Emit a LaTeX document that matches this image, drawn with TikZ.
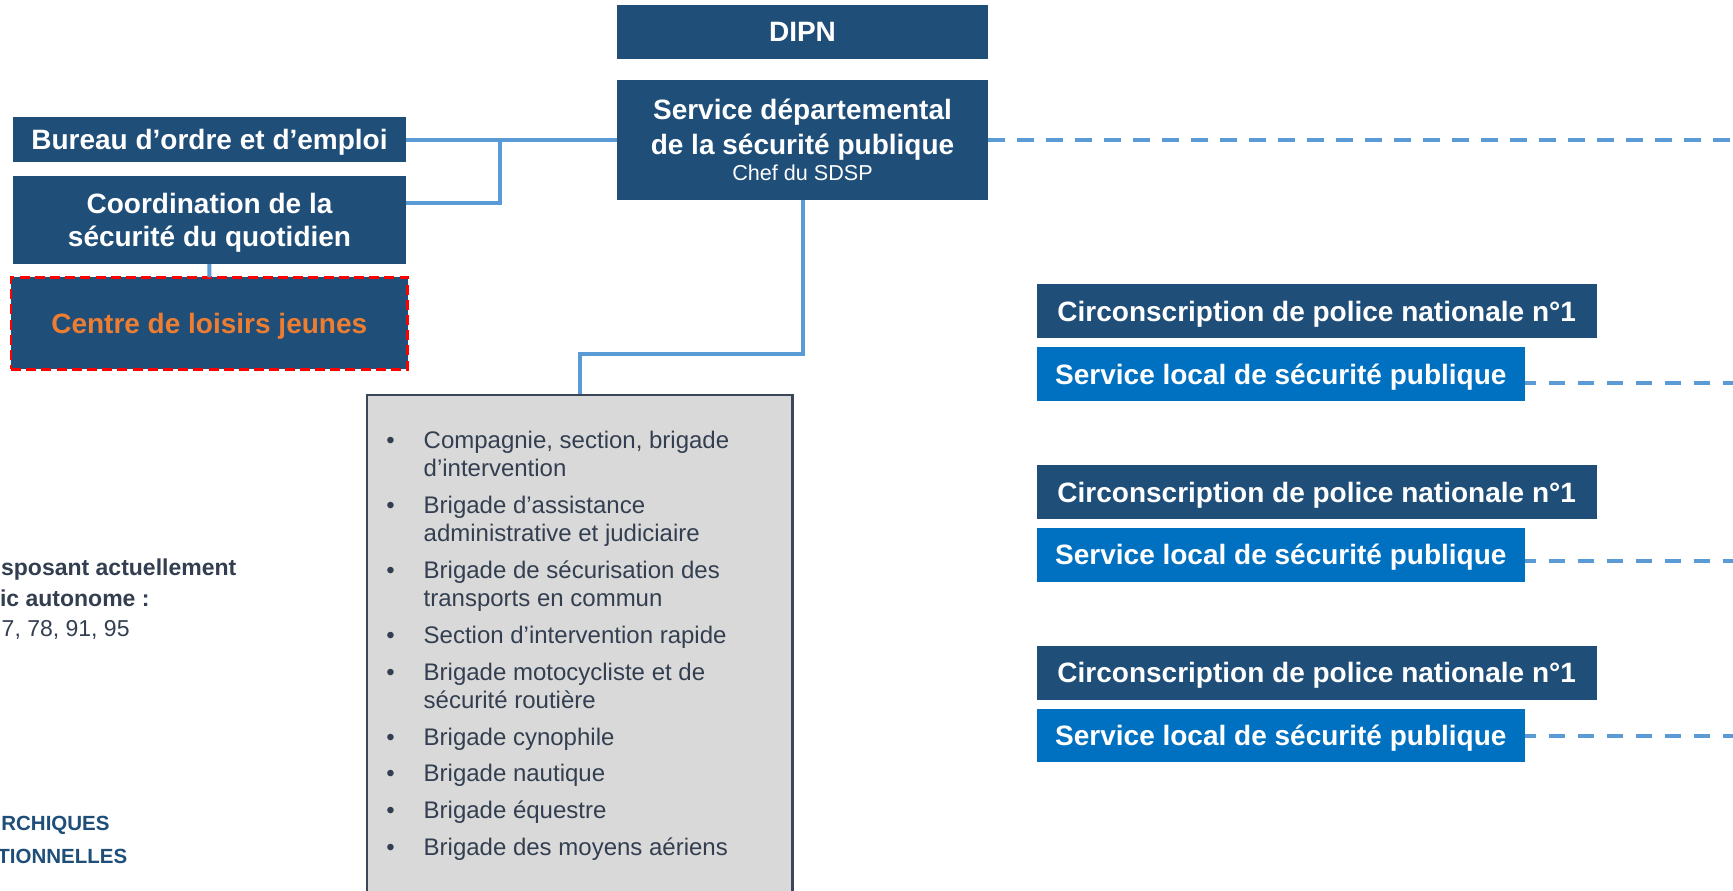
\documentclass[tikz,border=0pt]{standalone}
\usepackage{fontspec}
\setmainfont{Liberation Sans}
\definecolor{dblue}{HTML}{1F4E79}
\definecolor{mblue}{HTML}{0070C0}
\definecolor{lineblue}{HTML}{5B9BD5}
\definecolor{slate}{HTML}{333F50}
\definecolor{lgray}{HTML}{D9D9D9}
\definecolor{lborder}{HTML}{3B4757}
\definecolor{orng}{HTML}{ED7D31}
\tikzset{
  box/.style={fill=dblue, inner sep=0pt, outer sep=0pt, text=white,
    font=\bfseries\fontsize{14}{16.8}\selectfont, text height=10pt, text depth=0pt},
  sbox/.style={box, fill=mblue},
  btxt/.style={text=white, font=\bfseries\fontsize{14}{16.8}\selectfont, anchor=base, inner sep=0pt},
  stxt/.style={text=white, font=\fontsize{10.8}{13}\selectfont, anchor=base, inner sep=0pt},
  ltxt/.style={text=slate, font=\fontsize{12}{14}\selectfont, anchor=base west, inner sep=0pt},
  lbul/.style={text=slate, font=\fontsize{12}{14}\selectfont, anchor=base, inner sep=0pt},
  side/.style={text=slate, font=\bfseries\fontsize{11.5}{13.8}\selectfont, anchor=base east, inner sep=0pt},
  sider/.style={text=slate, font=\fontsize{11.5}{13.8}\selectfont, anchor=base east, inner sep=0pt},
  sideb/.style={text=dblue, font=\bfseries\fontsize{10.25}{12.3}\selectfont, anchor=base east, inner sep=0pt},
  conn/.style={draw=lineblue, line width=2pt},
  dconn/.style={draw=lineblue, line width=2pt, dash pattern=on 8.25pt off 6.25pt},
}
\begin{document}
\begin{tikzpicture}[x=0.5pt, y=-0.5pt]
\useasboundingbox (0,0) rectangle (1733,890);
\clip (0,0) rectangle (1733,890);
\fill[white] (0,0) rectangle (1733,890);

% top boxes
\node[box, minimum width=185.5pt, minimum height=27pt] (dipn) at (802.5,31.5) {DIPN};
\node[box, minimum width=185.5pt, minimum height=60.25pt] (sdsp) at (802.5,139.75) {};
\node[btxt] (sdspA) at (802.5,119.3) {Service départemental};
\node[btxt] (sdspB) at (802.5,154) {de la sécurité publique};
\node[stxt] (sdspC) at (802.5,180) {Chef du SDSP};

% left boxes
\node[box, minimum width=196.5pt, minimum height=22.8pt] (bureau) at (209.5,139.5) {Bureau d’ordre et d’emploi};
\node[box, minimum width=196.5pt, minimum height=44.15pt] (coord) at (209.5,219.85) {};
\node[btxt] (coordA) at (209.5,213.3) {Coordination de la};
\node[btxt] (coordB) at (209.5,246.7) {sécurité du quotidien};
\node[box, minimum width=198.25pt, minimum height=46pt, text=orng,
      draw=red, line width=1.4pt, dash pattern=on 5pt off 2.6pt] (centre) at (209.25,323.3) {Centre de loisirs jeunes};

% list box
\node[fill=lgray, draw=lborder, line width=1.35pt, inner sep=0pt,
      minimum width=212.75pt, minimum height=255pt] (list) at (579.75,650) {};
\node[lbul] (b1) at (390.5,448.3) {•};
\node[ltxt] (l1a) at (423.3,448.3) {Compagnie, section, brigade};
\node[ltxt] (l1b) at (423.3,476.6) {d’intervention};
\node[lbul] (b2) at (390.5,513.3) {•};
\node[ltxt] (l2a) at (423.3,513.3) {Brigade d’assistance};
\node[ltxt] (l2b) at (423.3,541.6) {administrative et judiciaire};
\node[lbul] (b3) at (390.5,578.3) {•};
\node[ltxt] (l3a) at (423.3,578.3) {Brigade de sécurisation des};
\node[ltxt] (l3b) at (423.3,606.6) {transports en commun};
\node[lbul] (b4) at (390.5,643.3) {•};
\node[ltxt] (l4) at (423.3,643.3) {Section d’intervention rapide};
\node[lbul] (b5) at (390.5,680) {•};
\node[ltxt] (l5a) at (423.3,680) {Brigade motocycliste et de};
\node[ltxt] (l5b) at (423.3,708.3) {sécurité routière};
\node[lbul] (b6) at (390.5,745) {•};
\node[ltxt] (l6) at (423.3,745) {Brigade cynophile};
\node[lbul] (b7) at (390.5,781.7) {•};
\node[ltxt] (l7) at (423.3,781.7) {Brigade nautique};
\node[lbul] (b8) at (390.5,818.4) {•};
\node[ltxt] (l8) at (423.3,818.4) {Brigade équestre};
\node[lbul] (b9) at (390.5,855.1) {•};
\node[ltxt] (l9) at (423.3,855.1) {Brigade des moyens aériens};

% right boxes
\node[box, minimum width=280pt, minimum height=27pt] (cpn1) at (1316.65,311.3) {Circonscription de police nationale n°1};
\node[sbox, minimum width=244.15pt, minimum height=26.85pt] (slsp1) at (1280.85,374.15) {Service local de sécurité publique};
\node[box, minimum width=280pt, minimum height=27pt] (cpn2) at (1316.65,492) {Circonscription de police nationale n°1};
\node[sbox, minimum width=244.15pt, minimum height=26.85pt] (slsp2) at (1280.85,554.7) {Service local de sécurité publique};
\node[box, minimum width=280pt, minimum height=27pt] (cpn3) at (1316.65,672.5) {Circonscription de police nationale n°1};
\node[sbox, minimum width=244.15pt, minimum height=26.85pt] (slsp3) at (1280.85,735.35) {Service local de sécurité publique};

% left side texts (cut by the frame)
\node[side] (t1) at (236.7,575) {sposant actuellement};
\node[side] (t2) at (150,606.7) {ic autonome :};
\node[sider] (t3) at (130,636.7) {7, 78, 91, 95};
\node[sideb] (t4) at (110,830) {RCHIQUES};
\node[sideb] (t5) at (127.7,863.3) {TIONNELLES};

% connectors
\coordinate (jc) at (500,203.3);
\coordinate (mid) at (690,354);
\draw[conn] (bureau.east) -- (bureau.east -| sdsp.west);
\draw[conn] (coord.east |- jc) -- (jc) -- (jc |- bureau.east);
\draw[conn] (coord.south) -- (centre.north);
\draw[conn] (sdsp.south) -- (sdsp.south |- mid) -| (list.north);

\coordinate (e0) at (1745,139.75);
\coordinate (e1) at (1745,383.3);
\coordinate (e2) at (1745,561);
\coordinate (e3) at (1745,735.7);
\draw[dconn] (sdsp.east |- e0) -- (e0);
\draw[dconn, dash phase=2.75pt] (slsp1.east |- e1) -- (e1);
\draw[dconn, dash phase=2.75pt] (slsp2.east |- e2) -- (e2);
\draw[dconn, dash phase=2.75pt] (slsp3.east |- e3) -- (e3);
\end{tikzpicture}
\end{document}
